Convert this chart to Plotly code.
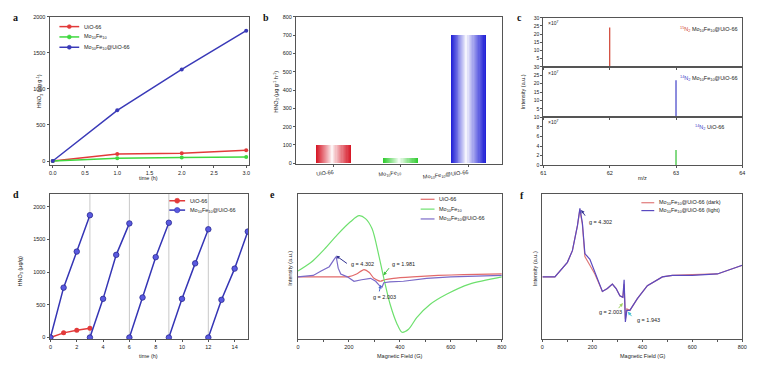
import plotly.graph_objects as go

W, H = 779, 372

# ---------------- data ----------------
# panel a
a_time = [0, 1, 2, 3]
a_uio = [0, 97, 109, 150]
a_mofe = [0, 37, 50, 57]
a_mofe_uio = [0, 703, 1270, 1807]

# panel b
b_cats = ["UiO-66", "Mo<sub>10</sub>Fe<sub>10</sub>", "Mo<sub>10</sub>Fe<sub>10</sub>@UiO-66"]
b_vals = [100, 32, 700]

# panel c (m/z, intensity x1e7)
c_top_mz, c_top_int = 62, 24
c_mid_mz, c_mid_int = 63, 22
c_bot_mz, c_bot_int = 63, 3.2

# panel d
d_uio_t = [0, 1, 2, 3]
d_uio = [0, 71, 110, 140]
d_cycle_t = [[0, 1, 2, 3], [3, 4, 5, 6], [6, 7, 8, 9], [9, 10, 11, 12], [12, 13, 14, 15]]
d_cycle_v = [[0, 762, 1313, 1869], [0, 591, 1263, 1744], [0, 612, 1228, 1754],
             [0, 591, 1133, 1654], [0, 576, 1053, 1619]]
d_cycle_marks = [3, 6, 9, 12]

# panel e (EPR, a.u.)
e_green_B = [0, 52, 104, 155, 207, 240, 265, 291, 317, 337, 362, 388, 408, 434, 466, 518, 583, 673, 800]
e_green_I = [0.47, 0.53, 0.62, 0.72, 0.81, 0.85, 0.83, 0.76, 0.58, 0.42, 0.24, 0.11, 0.05, 0.07, 0.15, 0.24, 0.31, 0.38, 0.43]
e_red_B = [0, 100, 200, 230, 259, 280, 298, 324, 340, 375, 450, 550, 650, 800]
e_red_I = [0.43, 0.43, 0.432, 0.45, 0.48, 0.46, 0.42, 0.40, 0.41, 0.42, 0.43, 0.44, 0.445, 0.45]
e_blue_B = [0, 60, 91, 123, 142, 150, 158, 168, 194, 220, 250, 285, 305, 320, 330, 337, 360, 414, 505, 600, 700, 800]
e_blue_I = [0.43, 0.44, 0.47, 0.50, 0.55, 0.57, 0.49, 0.45, 0.43, 0.40, 0.41, 0.42, 0.40, 0.37, 0.36, 0.39, 0.395, 0.40, 0.42, 0.43, 0.435, 0.44]

# panel f (EPR, a.u.)
f_B = [0, 50, 100, 120, 140, 150, 160, 170, 190, 210, 240, 260, 280, 295, 310, 322, 327, 332, 338, 350, 380, 420, 480, 520, 600, 700, 800]
f_light = [0.43, 0.43, 0.53, 0.61, 0.78, 0.90, 0.80, 0.59, 0.55, 0.46, 0.33, 0.35, 0.38, 0.35, 0.30, 0.29, 0.41, 0.12, 0.20, 0.20, 0.28, 0.37, 0.43, 0.44, 0.44, 0.45, 0.51]
f_dark = [0.43, 0.43, 0.53, 0.61, 0.78, 0.89, 0.79, 0.57, 0.51, 0.45, 0.33, 0.35, 0.38, 0.35, 0.30, 0.29, 0.38, 0.14, 0.21, 0.20, 0.28, 0.37, 0.43, 0.44, 0.445, 0.45, 0.51]

# ---------------- helpers ----------------
FONT = "Liberation Sans, Arial, sans-serif"
RED, GREEN, BLUE = "#e23a3a", "#3fd83f", "#3a3ab8"
TF = dict(size=5.5, family=FONT, color="#222")


def dxr(a, b):
    return [a / W, b / W]


def dyr(top, bottom):
    return [1 - bottom / H, 1 - top / H]


def ax(**kw):
    base = dict(showline=True, mirror=True, linecolor="#555", linewidth=1,
                ticks="outside", ticklen=2, tickwidth=1, tickcolor="#555",
                showgrid=False, zeroline=False, tickfont=TF)
    base.update(kw)
    return base


fig = go.Figure()

# ---- panel a ----
a_series = [("UiO-66", a_uio, RED),
            ("Mo<sub>10</sub>Fe<sub>10</sub>", a_mofe, GREEN),
            ("Mo<sub>10</sub>Fe<sub>10</sub>@UiO-66", a_mofe_uio, BLUE)]
for name, ys, col in a_series:
    fig.add_trace(go.Scatter(x=a_time, y=ys, mode="lines+markers", name=name,
                             line=dict(color=col, width=1.5),
                             marker=dict(size=4, color=col),
                             showlegend=False, xaxis="x", yaxis="y"))

# ---- panel b : shaded (cylindrical) bars, concentric layers ----
NS = 16
bw = 0.52
base_cols = [(215, 25, 40), (50, 205, 50), (35, 35, 215)]
for k in range(NS):
    frac = 1 - k / NS
    wgt = (1 - k / (NS - 1)) ** 0.9
    wgt = 0.05 + 0.95 * wgt
    cols = ["rgb(%d,%d,%d)" % (255 + (r - 255) * wgt, 255 + (g - 255) * wgt, 255 + (b - 255) * wgt)
            for (r, g, b) in base_cols]
    wk = bw * frac
    fig.add_trace(go.Bar(x=[0, 1, 2], y=b_vals, width=wk,
                         offset=-wk / 2 - 0.03 * (1 - frac),
                         marker=dict(color=cols, line=dict(width=0)),
                         showlegend=False, xaxis="x2", yaxis="y2"))

# ---- panel c ----
fig.add_trace(go.Scatter(x=[c_top_mz, c_top_mz], y=[0, c_top_int], mode="lines",
                         line=dict(color="#d04030", width=1.2), showlegend=False,
                         xaxis="x3", yaxis="y3"))
fig.add_trace(go.Scatter(x=[c_mid_mz, c_mid_mz], y=[0, c_mid_int], mode="lines",
                         line=dict(color="#4040c8", width=1.2), showlegend=False,
                         xaxis="x4", yaxis="y4"))
fig.add_trace(go.Scatter(x=[c_bot_mz, c_bot_mz], y=[0, c_bot_int], mode="lines",
                         line=dict(color="#30c030", width=1.2), showlegend=False,
                         xaxis="x5", yaxis="y5"))

# ---- panel d ----
dx_all, dy_all = [], []
for tt, vv in zip(d_cycle_t, d_cycle_v):
    dx_all += tt + [None]
    dy_all += vv + [None]
fig.add_trace(go.Scatter(x=d_uio_t, y=d_uio, mode="lines+markers",
                         line=dict(color=RED, width=1.5),
                         marker=dict(size=5, color=RED),
                         showlegend=False, xaxis="x6", yaxis="y6"))
fig.add_trace(go.Scatter(x=dx_all, y=dy_all, mode="lines+markers",
                         line=dict(color="#3535b5", width=1.5),
                         marker=dict(size=5.5, color="#5a5ae0", line=dict(color="#2a2a90", width=0.8)),
                         showlegend=False, xaxis="x6", yaxis="y6"))

# ---- panel e ----
E_RED, E_GREEN, E_BLUE = "#e26a6a", "#6ee06e", "#7a6ac8"
fig.add_trace(go.Scatter(x=e_red_B, y=e_red_I, mode="lines",
                         line=dict(color=E_RED, width=1.2, shape="spline", smoothing=0.6),
                         showlegend=False, xaxis="x7", yaxis="y7"))
fig.add_trace(go.Scatter(x=e_green_B, y=e_green_I, mode="lines",
                         line=dict(color=E_GREEN, width=1.2, shape="spline", smoothing=0.8),
                         showlegend=False, xaxis="x7", yaxis="y7"))
fig.add_trace(go.Scatter(x=e_blue_B, y=e_blue_I, mode="lines",
                         line=dict(color=E_BLUE, width=1.2),
                         showlegend=False, xaxis="x7", yaxis="y7"))

# ---- panel f ----
F_RED, F_BLUE = "#e07a7a", "#5a4ac0"
fig.add_trace(go.Scatter(x=f_B, y=f_dark, mode="lines",
                         line=dict(color=F_RED, width=1.2),
                         showlegend=False, xaxis="x8", yaxis="y8"))
fig.add_trace(go.Scatter(x=f_B, y=f_light, mode="lines",
                         line=dict(color=F_BLUE, width=1.2),
                         showlegend=False, xaxis="x8", yaxis="y8"))

# ---------------- layout ----------------
layout = dict(
    width=W, height=H, margin=dict(l=0, r=0, t=0, b=0),
    paper_bgcolor="white", plot_bgcolor="white", bargap=0, barmode="overlay",
    font=dict(family=FONT, size=6, color="#222"),
    # a
    xaxis=ax(domain=dxr(47, 249), range=[-0.05, 3.05], tickvals=[0, 0.5, 1, 1.5, 2, 2.5, 3],
             ticktext=["0.0", "0.5", "1.0", "1.5", "2.0", "2.5", "3.0"], anchor="y"),
    yaxis=ax(domain=dyr(14, 165), range=[-60, 2000], tickvals=[0, 500, 1000, 1500, 2000], anchor="x"),
    # b
    xaxis2=ax(domain=dxr(296, 504), range=[-0.56, 2.5], tickvals=[0, 1, 2], ticktext=b_cats,
              tickangle=-6, anchor="y2"),
    yaxis2=ax(domain=dyr(14, 164), range=[-6, 800], dtick=100, anchor="x2"),
    # c
    xaxis3=ax(domain=dxr(546, 747), range=[61, 64], dtick=1, showticklabels=False, anchor="y3"),
    yaxis3=ax(domain=dyr(15, 65), range=[0, 30], tickvals=[5, 10, 15, 20, 25, 30], anchor="x3",
              tickfont=dict(size=5, family=FONT, color="#222")),
    xaxis4=ax(domain=dxr(546, 747), range=[61, 64], dtick=1, showticklabels=False, anchor="y4"),
    yaxis4=ax(domain=dyr(65, 116), range=[0, 30], tickvals=[5, 10, 15, 20, 25, 30], anchor="x4",
              tickfont=dict(size=5, family=FONT, color="#222")),
    xaxis5=ax(domain=dxr(546, 747), range=[61, 64], dtick=1, anchor="y5"),
    yaxis5=ax(domain=dyr(116, 165), range=[0, 10], dtick=2, anchor="x5",
              tickfont=dict(size=5, family=FONT, color="#222")),
    # d
    xaxis6=ax(domain=dxr(47, 248), range=[-0.07, 15.05], dtick=2, anchor="y6"),
    yaxis6=ax(domain=dyr(194, 342), range=[-30, 2195], tickvals=[0, 500, 1000, 1500, 2000], anchor="x6"),
    # e
    xaxis7=ax(domain=dxr(298, 504), range=[0, 800], dtick=200, anchor="y7",
              minor=dict(ticks="outside", dtick=100, ticklen=1.5, tickcolor="#555")),
    yaxis7=ax(domain=dyr(194, 342), range=[0, 1], showticklabels=False, ticks="", anchor="x7"),
    # f
    xaxis8=ax(domain=dxr(545, 747), range=[0, 800], dtick=200, anchor="y8",
              minor=dict(ticks="outside", dtick=100, ticklen=1.5, tickcolor="#555")),
    yaxis8=ax(domain=dyr(194, 342), range=[0, 1], showticklabels=False, ticks="", anchor="x8"),
)
fig.update_layout(**layout)

# vertical cycle separators in d
for xv in d_cycle_marks:
    fig.add_shape(type="line", xref="x6", yref="y6 domain", x0=xv, x1=xv, y0=0, y1=1,
                  line=dict(color="#c8c8c8", width=1), layer="below")

ann = []


def txt(x, y, s, size=5.5, xanchor="center", color="#222", family=FONT, **kw):
    d = dict(x=x / W, y=1 - y / H, xref="paper", yref="paper", text=s, showarrow=False,
             xanchor=xanchor, yanchor="middle",
             font=dict(size=size, family=family, color=color))
    d.update(kw)
    ann.append(d)


def leg(x0, x1, y, col, label, marker=0, mcol=None, lw=1.5):
    fig.add_shape(type="line", xref="paper", yref="paper",
                  x0=x0 / W, x1=x1 / W, y0=1 - y / H, y1=1 - y / H,
                  line=dict(color=col, width=lw))
    if marker:
        xc = (x0 + x1) / 2
        fig.add_shape(type="circle", xref="paper", yref="paper",
                      x0=(xc - marker) / W, x1=(xc + marker) / W,
                      y0=1 - (y + marker) / H, y1=1 - (y - marker) / H,
                      fillcolor=mcol or col, line=dict(color=col, width=0.6))
    txt(x1 + 3, y, label, xanchor="left")


# legends (drawn compactly)
leg(57, 77, 24, RED, a_series[0][0], marker=2)
leg(57, 77, 34.5, GREEN, a_series[1][0], marker=2)
leg(57, 77, 45, BLUE, a_series[2][0], marker=2)

leg(168, 184, 201, RED, "UiO-66", marker=2.5)
leg(168, 184, 210.5, "#3535b5", "Mo<sub>10</sub>Fe<sub>10</sub>@UiO-66", marker=2.7, mcol="#5a5ae0")

leg(422, 436, 199.5, E_RED, "UiO-66", lw=1.2)
leg(422, 436, 209.5, E_GREEN, "Mo<sub>10</sub>Fe<sub>10</sub>", lw=1.2)
leg(422, 436, 219.5, E_BLUE, "Mo<sub>10</sub>Fe<sub>10</sub>@UiO-66", lw=1.2)

leg(645, 658, 203, F_RED, "Mo<sub>10</sub>Fe<sub>10</sub>@UiO-66 (dark)", lw=1.2)
leg(645, 658, 211, F_BLUE, "Mo<sub>10</sub>Fe<sub>10</sub>@UiO-66 (light)", lw=1.2)

# panel letters
for (lx, ly, l) in [(13, 15, "a"), (266, 15, "b"), (522, 15, "c"), (13, 195, "d"), (272, 195, "e"), (524, 196, "f")]:
    txt(lx, ly, "<b>%s</b>" % l, size=10, family="Liberation Serif, serif", color="#111")

# axis titles
txt(37, 90, "HNO<sub>3</sub> (μg g<sup>-1</sup>)", textangle=-90)
txt(147, 178, "time (h)")
txt(276, 90, "HNO<sub>3</sub> (μg g<sup>-1</sup> h<sup>-1</sup>)", textangle=-90)
txt(525, 90, "Intensity (a.u.)", textangle=-90)
txt(646, 178, "m/z")
txt(18, 272, "HNO<sub>3</sub> (μg/g)", textangle=-90)
txt(147, 359, "time (h)")
txt(290, 270, "Intensity (a.u.)", textangle=-90)
txt(401, 359, "Magnetic Field (G)")
txt(537, 270, "Intensity (a.u.)", textangle=-90)
txt(646, 359, "Magnetic Field (G)")

# panel c labels
for yy in [20, 71, 121]:
    txt(549, yy, "×10<sup>7</sup>", xanchor="left", size=5)
txt(745, 27, "<span style='color:#d04030'><sup>15</sup>N<sub>2</sub></span> Mo<sub>10</sub>Fe<sub>10</sub>@UiO-66", xanchor="right", size=5.5)
txt(745, 77, "<span style='color:#4040c8'><sup>14</sup>N<sub>2</sub></span> Mo<sub>10</sub>Fe<sub>10</sub>@UiO-66", xanchor="right", size=5.5)
txt(730, 127, "<span style='color:#4040c8'><sup>14</sup>N<sub>2</sub></span> UiO-66", xanchor="right", size=5.5)


# g-value annotations (data coords)
def garrow(xr, yr, x, y, tx, ty, col):
    ann.append(dict(x=x, y=y, xref=xr, yref=yr, ax=tx, ay=ty, axref=xr, ayref=yr,
                    text="", showarrow=True, arrowhead=2, arrowsize=0.7, arrowwidth=1, arrowcolor=col))


def glabel(xr, yr, x, y, s):
    ann.append(dict(x=x, y=y, xref=xr, yref=yr, text=s, showarrow=False,
                    xanchor="left", yanchor="middle", font=dict(size=5.5, family=FONT, color="#222")))


garrow("x7", "y7", 150, 0.575, 198, 0.515, "#303090")
glabel("x7", "y7", 200, 0.515, "g = 4.302")
garrow("x7", "y7", 335, 0.44, 362, 0.5, "#40c040")
glabel("x7", "y7", 362, 0.52, "g = 1.981")
garrow("x7", "y7", 325, 0.375, 318, 0.32, "#4a6ad0")
glabel("x7", "y7", 285, 0.29, "g = 2.003")

garrow("x8", "y8", 155, 0.89, 175, 0.84, "#303090")
glabel("x8", "y8", 180, 0.81, "g = 4.302")
garrow("x8", "y8", 322, 0.25, 300, 0.205, "#a0d060")
glabel("x8", "y8", 218, 0.19, "g = 2.003")
garrow("x8", "y8", 342, 0.19, 362, 0.15, "#40c0d0")
glabel("x8", "y8", 372, 0.135, "g = 1.943")

fig.update_layout(annotations=ann)
fig.write_html("out.html", config={"displayModeBar": False},
               post_script="document.body.style.margin='0';document.body.style.overflow='hidden';")
